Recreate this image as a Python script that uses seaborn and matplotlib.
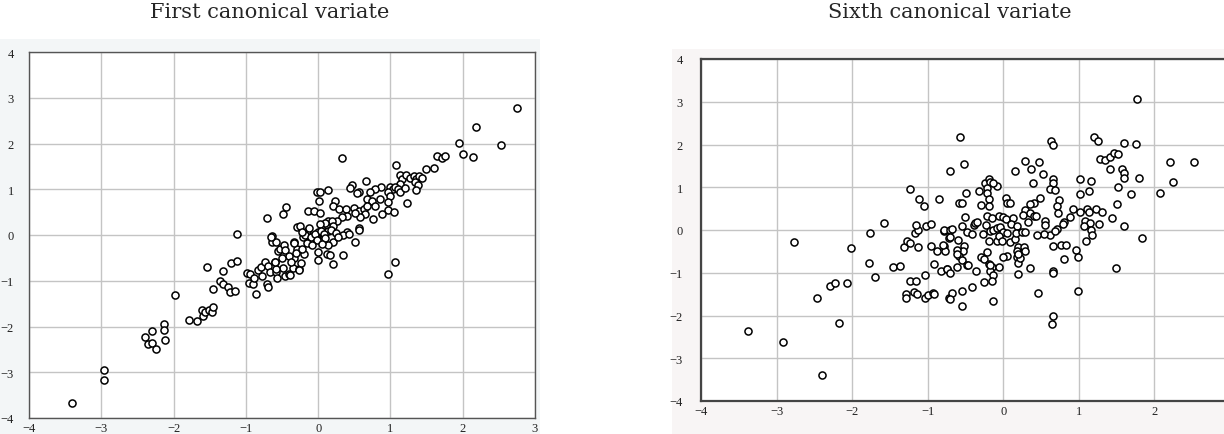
import numpy as np
import pandas as pd
import seaborn as sns
import matplotlib
matplotlib.use("Agg")
from matplotlib import pyplot as plt
from matplotlib.patches import Rectangle

# first canonical variate (x, y)
first_x = [-3.40, -2.96, -2.96, -2.39, -2.30, -2.35, -2.30, -2.25, -2.13, -2.13, -2.12, -1.98,
           -1.78, -1.68, -1.61, -1.59, -1.57, -1.51, -1.47, -1.46, -1.54, -1.46, -1.36, -1.31,
           -1.31, -1.25, -1.22, -1.15, -1.20, -1.12, -1.12, -0.99, -0.96, -0.94, -0.90, -0.89,
           -0.86, -0.83, -0.79, -0.77, -0.73, -0.71, -0.70, -0.69, -0.67, -0.64, -0.64, -0.59,
           -0.58, -0.58, -0.57, -0.56, -0.53, -0.47, -0.46, -0.48, -0.46, -0.41, -0.35, -0.34,
           -0.34, -0.29, -0.27, -0.71, -0.48, -0.44, -0.29, -0.01, 0.03, 0.13, 0.01, -0.14,
           -0.06, 0.03, -0.65, -0.25, -0.16, -0.21, -0.19, 0.00, 0.00, 0.12, 0.14, 0.14,
           -0.24, -0.27, -0.39, -0.58, -0.59, 0.33, 1.95, 2.01, 1.64, 1.71, 1.76, 1.49,
           1.60, 1.08, 2.75, 2.19, 2.53, 2.14, 1.13, 1.16, 1.22, 1.27, 1.32, 1.36,
           1.39, 1.43, 1.34, 1.38, 1.36, 1.13, 1.00, 1.03, 1.06, 1.11, 1.13, 1.20,
           0.97, 0.99, 0.97, 1.23, 0.87, 0.79, 0.72, 0.67, 0.74, 0.79, 0.85, 0.96,
           1.05, 0.88, 0.76, 0.66, 0.57, 0.47, 0.44, 0.54, 0.23, 0.21, 0.29, 0.39,
           0.50, 0.57, 0.63, 0.67, 0.65, 0.58, 0.51, 0.40, 0.33, 0.26, 0.19, 0.10,
           0.03, 0.57, 0.51, 0.40, 0.35, 0.21, 0.21, 0.14, 0.07, 0.00, -0.07, -0.11,
           -0.18, -0.23, 1.06, 0.96, 0.35, 0.20, 0.17, -0.33, 0.42, 0.57, 0.14, -0.10,
           -0.05, 0.04, 0.08, -0.02, 0.10, -0.15, -0.08, 0.05, -0.30, -0.22, -0.40, -0.12,
           0.18, 0.25, -0.38, -0.50, 0.28]
first_y = [-3.68, -2.94, -3.17, -2.24, -2.09, -2.38, -2.35, -2.49, -1.95, -2.08, -2.29, -1.32,
           -1.85, -1.88, -1.64, -1.78, -1.68, -1.63, -1.68, -1.58, -0.71, -1.18, -1.00, -0.79,
           -1.07, -1.14, -1.25, -1.23, -0.61, -0.57, 0.03, -0.83, -1.05, -0.85, -1.07, -0.93,
           -1.30, -0.76, -0.71, -0.89, -0.58, -1.07, -1.14, -0.67, -0.80, -0.02, -0.16, -0.58,
           -0.15, -0.80, -0.95, -0.35, -0.31, -0.22, -0.32, -0.73, -0.89, -0.85, -0.73, -0.16,
           -0.51, -0.31, -0.74, 0.37, 0.45, 0.62, 0.17, 0.95, 0.95, 0.99, 0.75, 0.52,
           0.52, 0.47, -0.04, 0.19, 0.09, -0.05, -0.42, -0.38, -0.54, -0.42, 0.17, 0.31,
           -0.62, -0.77, -0.87, -0.74, -0.60, 1.69, 2.01, 1.76, 1.73, 1.68, 1.73, 1.44,
           1.46, 1.53, 2.78, 2.37, 1.97, 1.71, 1.31, 1.22, 1.31, 1.25, 1.28, 1.22,
           1.29, 1.24, 1.15, 1.09, 0.99, 1.11, 1.06, 1.00, 1.04, 1.00, 0.93, 1.02,
           0.95, 0.86, 0.72, 0.69, 1.04, 1.00, 0.95, 0.79, 0.75, 0.63, 0.79, 0.55,
           0.50, 0.46, 0.36, 1.19, 0.93, 1.09, 1.02, 0.92, 0.75, 0.64, 0.57, 0.57,
           0.58, 0.53, 0.57, 0.64, 0.46, 0.39, 0.47, 0.42, 0.39, 0.31, 0.31, 0.26,
           0.24, 0.15, -0.16, 0.06, -0.01, 0.20, -0.16, 0.09, -0.01, 0.06, -0.05, -0.12,
           -0.01, 0.06, -0.58, -0.86, -0.43, -0.64, -0.44, -0.17, 0.02, 0.11, -0.21, -0.05,
           0.02, 0.08, 0.02, -0.10, -0.06, -0.18, -0.22, -0.20, -0.40, -0.30, -0.45, 0.15,
           0.12, 0.05, -0.58, -0.50, -0.05]

# sixth canonical variate (x, y)
sixth_x = [-3.38, -2.92, -2.40, -2.77, -2.46, -2.29, -2.23, -2.07, -2.17, -2.02, -1.76, -1.78,
           -1.70, -1.58, -1.46, -1.37, -1.32, -1.28, -1.24, -1.23, -1.16, -1.29, -1.29, -1.18,
           -1.14, -1.13, -1.17, -1.13, -1.15, -1.24, -1.12, -1.05, -0.85, -1.02, -0.95, -1.03,
           -1.03, -0.99, -0.93, -0.92, -0.96, -0.92, -0.88, -0.79, -0.77, -0.80, -0.83, -0.75,
           -0.79, -0.78, -0.70, -0.68, -0.72, -0.72, -0.57, -0.52, -0.71, -0.58, -0.55, -0.49,
           -0.32, -0.30, -0.24, -0.19, -0.17, -0.22, -0.22, -0.19, -0.19, -0.08, -0.71, -0.60,
           -0.52, -0.53, -0.61, -0.58, -0.61, -0.55, -0.48, -0.55, -0.50, -0.39, -0.37, -0.35,
           -0.48, -0.41, -0.27, -0.23, -0.21, -0.15, -0.17, -0.13, -0.08, -0.06, -0.19, -0.08,
           -0.74, -0.71, -0.61, -0.36, -0.30, -0.25, -0.22, -0.19, -0.15, -0.17, -0.14, -0.15,
           -0.26, -0.41, -0.55, -0.68, -0.70, -0.54, -0.14, -0.06, -0.47, -0.13, 0.03, 0.05,
           0.09, 0.00, 0.04, 0.13, 0.10, 0.18, -0.05, 0.00, 0.05, -0.06, -0.02, 0.09,
           0.15, 0.17, 0.25, 0.29, 0.20, 0.27, 0.29, 0.18, 0.05, 0.00, 0.18, 0.20,
           -0.17, 1.77, 0.63, 0.66, 1.20, 1.25, 1.60, 1.76, 1.28, 1.35, 1.41, 1.46,
           1.52, 1.41, 1.57, 1.60, 1.60, 1.79, 1.52, 1.69, 1.50, 1.44, 1.60, 1.84,
           1.49, 2.21, 2.52, 2.25, 2.08, 0.29, 0.37, 0.47, 0.52, 0.16, 0.39, 0.66,
           0.66, 0.62, 0.68, 0.48, 0.41, 0.36, 0.29, 0.26, 0.35, 0.40, 0.43, 0.33,
           0.74, 0.71, 0.73, 0.88, 0.92, 0.81, 0.79, 0.55, 0.55, 0.71, 0.62, 0.54,
           0.45, 0.66, 0.76, 0.83, 0.96, 0.99, 0.81, 0.36, 0.20, 0.66, 0.66, 0.46,
           0.99, 0.66, 0.64, 1.01, 1.16, 1.01, 1.14, 1.01, 1.11, 1.14, 1.23, 1.30,
           1.08, 1.15, 1.07, 1.26, 1.16, 1.18, 1.10, 0.22, 0.19, 0.69]
sixth_y = [-2.36, -2.62, -3.40, -0.29, -1.60, -1.30, -1.24, -1.25, -2.18, -0.41, -0.07, -0.77,
           -1.11, 0.17, -0.87, -0.84, -0.39, -0.25, -0.30, -1.20, -1.19, -1.49, -1.60, -1.45,
           -1.50, -0.40, -0.07, 0.00, 0.12, 0.96, 0.72, 0.56, 0.73, 0.09, 0.14, -1.05,
           -1.59, -1.53, -1.47, -1.50, -0.38, -0.79, -0.48, -0.38, -0.48, -0.36, -0.96, -0.92,
           -0.02, 0.00, 0.00, 0.02, -0.19, -1.60, 2.17, 1.55, 1.38, 0.63, 0.63, 0.86,
           0.91, 0.58, 1.11, 1.19, 1.12, 0.99, 0.86, 0.72, 0.57, 1.02, -0.17, -0.23,
           -0.37, -0.48, -0.47, -0.60, -0.56, -0.71, -0.83, 0.10, 0.30, 0.12, 0.16, 0.19,
           -0.05, -0.09, -0.09, 0.12, 0.33, 0.27, -0.02, 0.00, 0.04, 0.33, -0.25, -0.25,
           -0.92, -1.00, -0.87, -0.95, -0.64, -0.67, -0.52, -0.79, -0.87, -0.97, -1.06, -1.20,
           -1.22, -1.33, -1.43, -1.47, -1.62, -1.78, -1.65, -0.87, -0.81, 1.11, 0.74, 0.64,
           0.64, 0.31, 0.26, 0.27, 0.14, 0.10, 0.06, -0.04, -0.07, -0.15, -0.25, -0.29,
           -0.21, -0.07, -0.04, -0.05, -0.40, -0.40, -0.48, -0.50, -0.61, -0.62, -0.64, -0.77,
           -0.83, 3.06, 2.09, 1.98, 2.17, 2.08, 2.04, 2.02, 1.65, 1.63, 1.71, 1.79,
           1.78, 1.42, 1.43, 1.34, 1.21, 1.21, 1.01, 0.84, 0.60, 0.29, 0.09, -0.19,
           -0.89, 1.60, 1.60, 1.13, 0.87, 1.61, 1.43, 1.60, 1.30, 1.38, 1.11, 1.19,
           1.11, 0.97, 0.94, 0.76, 0.63, 0.60, 0.47, 0.35, 0.39, 0.33, 0.32, 0.18,
           0.70, 0.55, 0.40, 0.30, 0.49, 0.19, 0.14, 0.22, 0.12, 0.02, -0.12, -0.09,
           -0.11, -0.37, -0.34, -0.35, -0.46, -0.62, -0.67, -0.88, -1.04, -0.95, -1.00, -1.47,
           -1.43, -2.02, -2.19, 1.20, 1.15, 0.84, 0.91, 0.43, 0.49, 0.43, 0.49, 0.41,
           0.22, 0.16, 0.10, 0.14, 0.01, -0.11, -0.26, -0.66, -0.56, -0.02]

first = pd.DataFrame({"x": first_x, "y": first_y})
sixth = pd.DataFrame({"x": sixth_x, "y": sixth_y})

sns.set_style("white")
plt.rcParams["font.family"] = ["Liberation Serif", "DejaVu Serif"]

fig = plt.figure(figsize=(12.24, 4.35), dpi=100)
W, H = 1224.0, 435.0

# faint window backgrounds behind each plot (drawn under the axes)
fig.patches.append(Rectangle((0, 0), 540 / W, 395 / H, transform=fig.transFigure,
                             facecolor="#f3f6f7", edgecolor="none", zorder=-5))
fig.patches.append(Rectangle((672 / W, 0), 552 / W, 385 / H, transform=fig.transFigure,
                             facecolor="#f8f5f5", edgecolor="none", zorder=-5))

ax1 = fig.add_axes([29 / W, 1 - 419 / H, 506 / W, 366 / H])
ax2 = fig.add_axes([701 / W, 1 - 402 / H, 529 / W, 342 / H])

for ax, df, pad in [(ax1, first, 11), (ax2, sixth, 13)]:
    ax.set_zorder(2)
    ax.set_facecolor("white")
    sns.scatterplot(data=df, x="x", y="y", ax=ax, s=26, facecolor="white",
                    edgecolor="black", linewidth=1.1, zorder=3)
    ax.set_xlim(-4, 3)
    ax.set_ylim(-4, 4)
    ax.set_xticks(range(-4, 4))
    ax.set_yticks(range(-4, 5))
    ax.grid(True, color="#c4c4c4", linewidth=1.0)
    ax.set_axisbelow(True)
    ax.set_xlabel("")
    ax.set_ylabel("")
    ax.tick_params(length=0, labelsize=9, colors="#222222")
    ax.tick_params(axis="y", pad=pad)
    ax.tick_params(axis="x", pad=3)
    for sp in ax.spines.values():
        sp.set_color("#555555")
        sp.set_linewidth(1.0)

for sp in ["left", "bottom", "top"]:
    ax2.spines[sp].set_linewidth(1.6)
    ax2.spines[sp].set_color("#444444")

fig.text(270 / W, 1 - 13 / H, "First canonical variate", ha="center", va="center",
         fontsize=15, family=["DejaVu Serif"])
fig.text(950 / W, 1 - 13 / H, "Sixth canonical variate", ha="center", va="center",
         fontsize=15, family=["DejaVu Serif"])

fig.savefig("out.png", dpi=100)
